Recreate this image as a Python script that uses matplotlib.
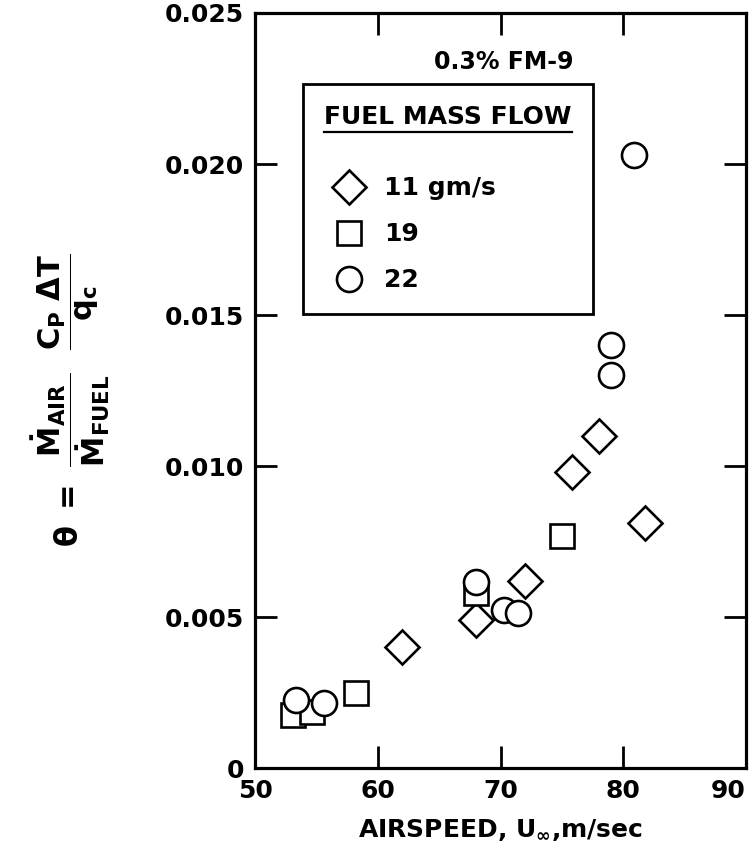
import matplotlib
matplotlib.use("Agg")
import matplotlib.pyplot as plt
from matplotlib.lines import Line2D

plt.rcParams['font.family'] = ['DejaVu Sans']
plt.rcParams['font.weight'] = 'bold'
plt.rcParams['mathtext.fontset'] = 'dejavusans'
plt.rcParams['mathtext.default'] = 'bf'

# data
x_11 = [62.0, 68.0, 72.0, 75.8, 78.0, 81.8]
y_11 = [0.0040, 0.0049, 0.0062, 0.0098, 0.0110, 0.0081]

x_19 = [53.1, 54.6, 58.2, 68.0, 75.0]
y_19 = [0.00176, 0.00186, 0.00249, 0.0058, 0.0077]

x_22 = [53.3, 55.6, 68.0, 70.3, 71.4, 79.0, 79.0, 80.9]
y_22 = [0.00225, 0.00215, 0.00617, 0.00524, 0.00514, 0.0130, 0.0140, 0.0203]

labels = ["11 gm/s", "19", "22"]
xticks = [50, 60, 70, 80, 90]
yticks = [0, 0.005, 0.010, 0.015, 0.020, 0.025]
ytick_labels = ["0", "0.005", "0.010", "0.015", "0.020", "0.025"]

fig = plt.figure(figsize=(7.55, 8.66), dpi=100)
ax = fig.add_axes([0.338, 0.113, 0.650, 0.872])

mk = dict(linestyle="none", markerfacecolor="white", markeredgecolor="black",
          markeredgewidth=1.9, clip_on=False)
ax.plot(x_11, y_11, marker="D", markersize=17, label=labels[0], **mk)
ax.plot(x_19, y_19, marker="s", markersize=17, label=labels[1], **mk)
ax.plot(x_22, y_22, marker="o", markersize=18, label=labels[2], **mk)

ax.set_xlim(50, 90)
ax.set_ylim(0, 0.025)
ax.set_xticks(xticks)
ax.set_yticks(yticks)
ax.set_yticklabels(ytick_labels)
ax.tick_params(direction="in", length=16, width=2, labelsize=18,
               top=True, right=True, pad=8)
ax.get_xticklabels()[-1].set_ha("right")
for s in ax.spines.values():
    s.set_linewidth(2.3)

ax.set_xlabel(r"AIRSPEED, U$_{\infty}$,m/sec", fontsize=18, fontweight="bold",
              labelpad=10)

fig.text(0.093, 0.538,
         r"$\theta\ =\ \dfrac{\dot{M}_{AIR}}{\dot{M}_{FUEL}}\ \ \dfrac{C_P\ \Delta T}{q_c}$",
         rotation=90, ha="center", va="center", fontsize=22)

ax.text(0.507, 0.935, "0.3% FM-9", transform=ax.transAxes, ha="center",
        va="center", fontsize=17, fontweight="bold")

leg = ax.legend(loc="upper left", bbox_to_anchor=(0.097, 0.906),
                title="FUEL MASS FLOW", fontsize=18, title_fontsize=18,
                alignment="left", frameon=True, fancybox=False,
                edgecolor="black", framealpha=1, borderpad=0.85,
                labelspacing=0.88, handletextpad=0.4, markerscale=1.0,
                borderaxespad=0)
leg.get_frame().set_linewidth(2.0)
leg.get_title().set_fontweight("bold")
leg._legend_box.sep = 34
for t in leg.get_texts():
    t.set_fontweight("bold")

# underline under the legend title
fig.canvas.draw()
bb = leg.get_title().get_window_extent()
inv = fig.transFigure.inverted()
(x0, y0), (x1, _) = inv.transform([(bb.x0, bb.y0 - 3), (bb.x1, bb.y0)])
fig.add_artist(Line2D([x0, x1], [y0, y0], color="black", linewidth=1.6,
                      transform=fig.transFigure))

fig.savefig("out.png", dpi=100)
